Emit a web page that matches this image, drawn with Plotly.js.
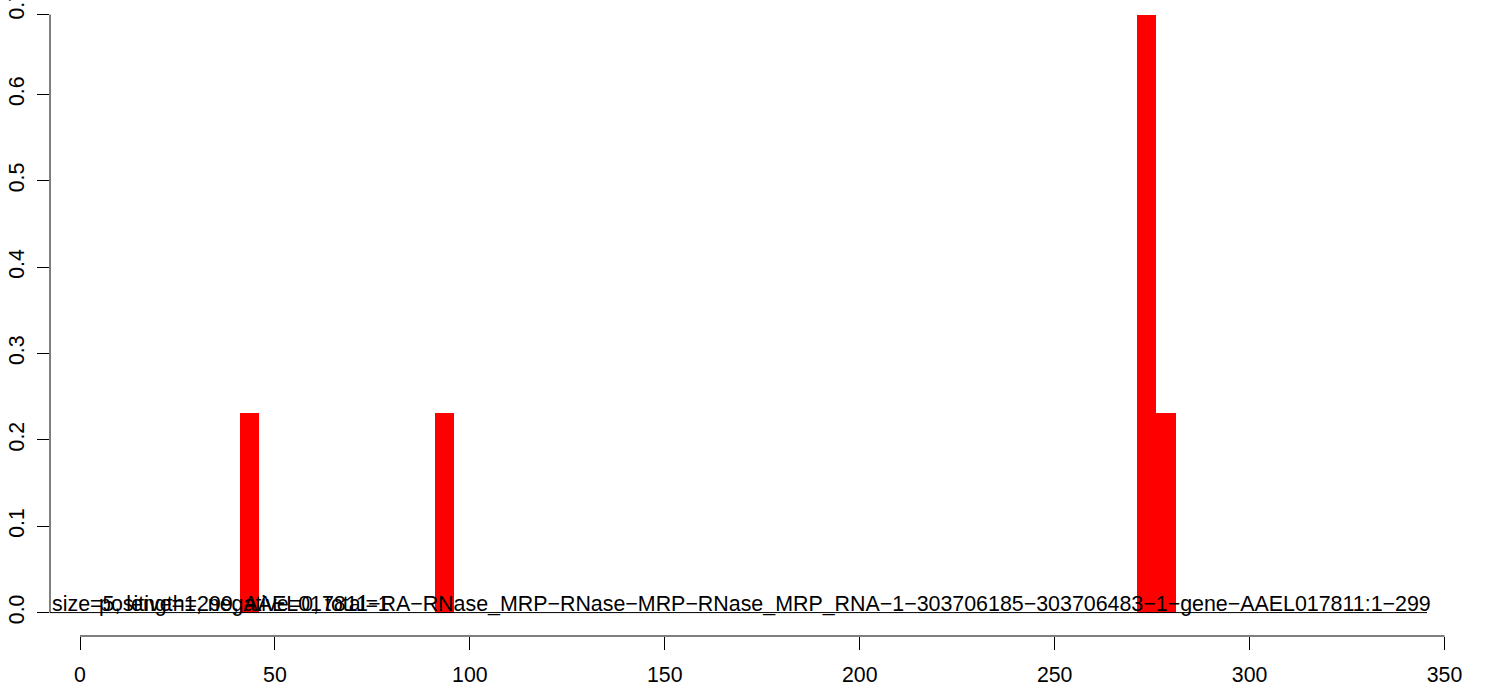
<!DOCTYPE html>
<html>
<head>
<meta charset="utf-8">
<script src="https://cdn.plot.ly/plotly-3.0.1.min.js"></script>
<style>
  html, body { margin: 0; padding: 0; background: #fff; }
  #chart { width: 1486px; height: 687px; }
</style>
</head>
<body>
<div id="chart"></div>
<script>
// ---- data ----
const binStarts = [41, 91, 271, 276];
const binWidth = 5;
const binValues = [0.2308, 0.2308, 0.6923, 0.2308];
const xTickVals = [0, 50, 100, 150, 200, 250, 300, 350];
const yTickVals = [0, 0.1, 0.2, 0.3, 0.4, 0.5, 0.6, 0.7];
const yTickText = ["0.0", "0.1", "0.2", "0.3", "0.4", "0.5", "0.6", "0.7"];
const infoText = "size=5, length=299, AAEL017811\u2212RA\u2212RNase_MRP\u2212RNase\u2212MRP\u2212RNase_MRP_RNA\u22121\u2212303706185\u2212303706483\u22121\u2212gene\u2212AAEL017811:1\u2212299";
const countText = "positive=1, negative=0, total=1";
const xAxisEnd = 350;
const baseLineEnd = 345.5;

const yMax = Math.max(...binValues);
const FONT = "Liberation Sans, Arial, Helvetica, sans-serif";
const FS = 21.3;

const xRange = [-7.695, 355.51];
const yRange = [-0.0271, 0.70925];

const trace = {
  type: "bar",
  x: binStarts,
  y: binValues,
  width: binWidth,
  offset: 0,
  marker: { color: "#ff0000", line: { width: 0 } },
  hoverinfo: "x+y",
  showlegend: false
};

const layout = {
  width: 1486,
  height: 687,
  margin: { l: 50, r: 20, t: 0, b: 51, pad: 0 },
  paper_bgcolor: "#ffffff",
  plot_bgcolor: "#ffffff",
  bargap: 0,
  showlegend: false,
  font: { family: FONT, size: FS, color: "#000" },
  xaxis: {
    range: xRange,
    showgrid: false, zeroline: false, showline: false,
    ticks: "outside", ticklen: 13, tickwidth: 1, tickcolor: "#000",
    tickmode: "array", tickvals: xTickVals,
    tickfont: { family: FONT, size: FS, color: "#000" },
    ticklabelstandoff: 6,
    ticklabeloverflow: "allow",
    fixedrange: true
  },
  yaxis: {
    range: yRange,
    showgrid: false, zeroline: false, showline: false,
    ticks: "outside", ticklen: 12, tickwidth: 1, tickcolor: "#000",
    tickmode: "array", tickvals: yTickVals.filter(v => v <= yMax).concat([yMax]),
    showticklabels: false,
    fixedrange: true
  },
  yaxis2: {
    range: yRange,
    overlaying: "y",
    side: "left",
    showgrid: false, zeroline: false, showline: false,
    ticks: "",
    tickmode: "array", tickvals: yTickVals, ticktext: yTickText,
    tickangle: -90,
    tickfont: { family: FONT, size: FS, color: "#000" },
    ticklabelstandoff: 21,
    ticklabeloverflow: "allow",
    fixedrange: true
  },
  shapes: [
    { type: "line", xref: "x", yref: "paper", x0: 0, x1: xAxisEnd, y0: 0, y1: 0,
      line: { color: "#000", width: 1 } },
    { type: "line", xref: "paper", yref: "y", x0: 0, x1: 0, y0: 0, y1: yMax,
      line: { color: "#000", width: 1 } },
    { type: "line", xref: "x", yref: "y", x0: xRange[0], x1: baseLineEnd, y0: 0, y1: 0,
      line: { color: "#000", width: 1 } }
  ],
  annotations: [
    { xref: "paper", yref: "y", x: 0, y: 0, xanchor: "left", yanchor: "bottom",
      xshift: 0, yshift: -5, showarrow: false, text: infoText,
      font: { family: FONT, size: 21.4, color: "#000" } },
    { xref: "paper", yref: "y", x: 0, y: 0, xanchor: "left", yanchor: "bottom",
      xshift: 47, yshift: -5, showarrow: false, text: countText,
      font: { family: FONT, size: 21.4, color: "#000" } }
  ]
};

// dummy trace to activate yaxis2
const labelTrace = { type: "scatter", x: [null], y: [null], yaxis: "y2", showlegend: false, hoverinfo: "skip" };

Plotly.newPlot("chart", [trace, labelTrace], layout, { displayModeBar: false, staticPlot: true });
</script>
</body>
</html>
